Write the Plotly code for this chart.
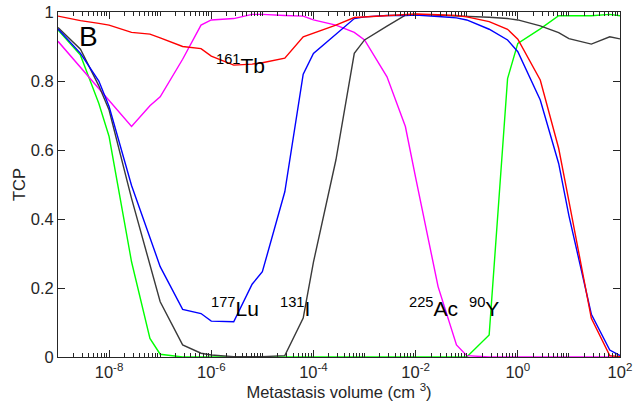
import plotly.graph_objects as go

# Metastasis volume (cm^3)
volume = [1e-9, 2.75e-9, 6.3e-9, 1e-8, 2.75e-8, 6.3e-8, 1e-7, 2.75e-7, 6.3e-7,
          1e-6, 2.75e-6, 6.3e-6, 1e-5, 2.75e-5, 6.3e-5, 1e-4, 2.75e-4, 6.3e-4,
          1e-3, 2.75e-3, 6.3e-3, 1e-2, 2.75e-2, 6.3e-2, 1e-1, 2.75e-1, 6.3e-1,
          1e0, 2.75e0, 6.3e0, 1e1, 2.75e1, 6.3e1, 1e2]

tcp_Y90 = [0.948, 0.875, 0.735, 0.639, 0.276, 0.054, 0.008, 0.0, 0.0,
           0.0, 0.0, 0.0, 0.0, 0.0, 0.0, 0.0, 0.0, 0.0,
           0.0, 0.0, 0.0, 0.0, 0.0, 0.0, 0.0, 0.064, 0.807,
           0.909, 0.951, 0.989, 0.989, 0.989, 0.993, 0.989]

tcp_Ac225 = [0.915, 0.84, 0.778, 0.744, 0.668, 0.728, 0.754, 0.863, 0.962,
             0.977, 0.981, 0.993, 0.993, 0.990, 0.988, 0.977, 0.962, 0.941,
             0.919, 0.812, 0.668, 0.52, 0.204, 0.035, 0.004, 0.0, 0.0,
             0.0, 0.0, 0.0, 0.0, 0.0, 0.0, 0.0]

tcp_I131 = [0.955, 0.892, 0.786, 0.716, 0.46, 0.27, 0.16, 0.035, 0.011,
            0.006, 0.001, 0.001, 0.001, 0.004, 0.113, 0.275, 0.571, 0.88,
            0.919, 0.959, 0.991, 0.993, 0.991, 0.989, 0.988, 0.985, 0.981,
            0.977, 0.96, 0.94, 0.923, 0.907, 0.928, 0.922]

tcp_Lu177 = [0.951, 0.88, 0.80, 0.726, 0.497, 0.35, 0.262, 0.138, 0.126,
             0.104, 0.102, 0.211, 0.247, 0.479, 0.82, 0.88, 0.934, 0.981,
             0.986, 0.99, 0.99, 0.991, 0.987, 0.983, 0.977, 0.95, 0.919,
             0.885, 0.745, 0.561, 0.41, 0.124, 0.02, 0.004]

tcp_Tb161 = [0.988, 0.975, 0.967, 0.962, 0.941, 0.936, 0.925, 0.900, 0.894,
             0.872, 0.846, 0.849, 0.853, 0.866, 0.928, 0.938, 0.962, 0.984,
             0.986, 0.99, 0.993, 0.994, 0.992, 0.99, 0.986, 0.972, 0.95,
             0.921, 0.803, 0.605, 0.452, 0.112, 0.004, 0.001]

x_tickvals = [1e-8, 1e-6, 1e-4, 1e-2, 1e0, 1e2]
x_ticktext = ["10<sup>-8</sup>", "10<sup>-6</sup>", "10<sup>-4</sup>",
              "10<sup>-2</sup>", "10<sup>0</sup>", "10<sup>2</sup>"]
y_tickvals = [0, 0.2, 0.4, 0.6, 0.8, 1]
y_ticktext = ["0", "0.2", "0.4", "0.6", "0.8", "1"]

minor_vals = [k * 10.0 ** e for e in range(-9, 2) for k in range(1, 10)
              if not (k == 1 and e % 2 == 0)]

FONT = "Liberation Sans, Arial, sans-serif"
AX = "#262626"
TS = 16.5

fig = go.Figure()
series = [
    ("90Y", tcp_Y90, "#00ff00"),
    ("225Ac", tcp_Ac225, "#ff00ff"),
    ("131I", tcp_I131, "#3a3a3a"),
    ("177Lu", tcp_Lu177, "#0000ff"),
    ("161Tb", tcp_Tb161, "#ff0000"),
]
for name, ys, col in series:
    fig.add_trace(go.Scatter(x=volume, y=ys, mode="lines", name=name,
                             line=dict(color=col, width=1.4)))

labels = [
    ("B", -8.41, 0.928, 28),
    ("<sup>161</sup>Tb", -5.43, 0.85, 21),
    ("<sup>177</sup>Lu", -5.53, 0.145, 21),
    ("<sup>131</sup>I", -4.37, 0.145, 21),
    ("<sup>225</sup>Ac", -1.66, 0.145, 21),
    ("<sup>90</sup>Y", -0.67, 0.145, 21),
]
for txt, lx, ly, size in labels:
    fig.add_annotation(x=lx, y=ly, xref="x", yref="y", text=txt, showarrow=False,
                       font=dict(family=FONT, size=size, color="black"),
                       xanchor="center", yanchor="middle")

fig.update_layout(
    width=639, height=414,
    margin=dict(l=58, r=19, t=12, b=57, autoexpand=False),
    paper_bgcolor="white", plot_bgcolor="white",
    showlegend=False,
    font=dict(family=FONT, size=TS, color=AX),
)
fig.update_xaxes(
    type="log", range=[-9, 2], automargin=False,
    tickmode="array", tickvals=x_tickvals, ticktext=x_ticktext,
    ticks="inside", ticklen=7, tickwidth=1, tickcolor=AX,
    minor=dict(tickmode="array", tickvals=minor_vals, ticks="inside",
               ticklen=4, tickcolor=AX, showgrid=False),
    showline=True, linecolor=AX, linewidth=1, mirror="allticks",
    showgrid=False, zeroline=False,
    tickfont=dict(family=FONT, size=TS, color=AX),
    title=dict(text="Metastasis volume (cm <sup>3</sup>)", standoff=6,
               font=dict(family=FONT, size=TS, color=AX)),
)
fig.update_yaxes(
    range=[0, 1], automargin=False,
    tickmode="array", tickvals=y_tickvals, ticktext=y_ticktext,
    ticks="inside", ticklen=7, tickwidth=1, tickcolor=AX,
    showline=True, linecolor=AX, linewidth=1, mirror="allticks",
    showgrid=False, zeroline=False,
    tickfont=dict(family=FONT, size=TS, color=AX),
    title=dict(text="TCP", standoff=0, font=dict(family=FONT, size=TS, color=AX)),
)

fig.write_html("out.html", config={"displayModeBar": False},
               post_script="document.body.style.margin='0';document.body.style.padding='0';")
